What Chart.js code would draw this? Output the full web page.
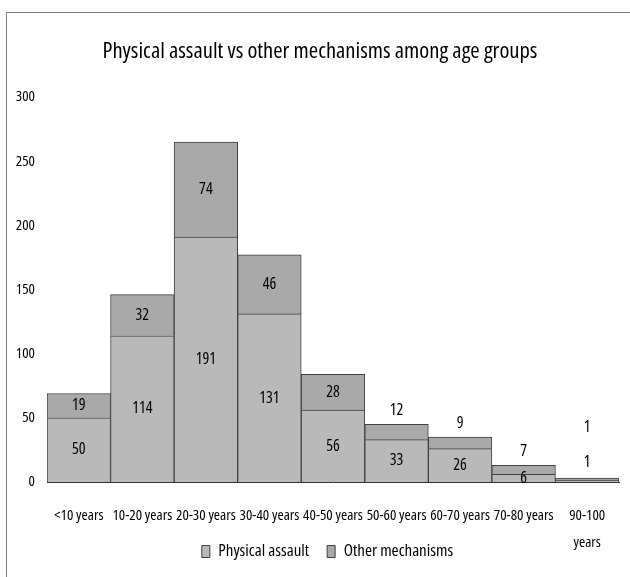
<!DOCTYPE html>
<html>
<head>
<meta charset="utf-8">
<script src="https://cdn.jsdelivr.net/npm/chart.js@4.4.1/dist/chart.umd.min.js"></script>
<style>
    body { margin: 0; background: #fff; }
    #frame { position: absolute; left: 6px; top: 12px; width: 640px; height: 600px; border-left: 1px solid #7f7f7f; border-top: 1px solid #7f7f7f; }
    #myChart { position: absolute; left: 0; top: 0; }
</style>
</head>
<body>
<div id="frame"></div>
<canvas id="myChart" width="630" height="577"></canvas>
<script>
const ageGroups = ["<10 years", "10-20 years", "20-30 years", "30-40 years", "40-50 years", "50-60 years", "60-70 years", "70-80 years", ["90-100", "years"]];
const physicalAssault = [50, 114, 191, 131, 56, 33, 26, 6, 1];
const otherMechanisms = [19, 32, 74, 46, 28, 12, 9, 7, 1];

// no narrow font installed, so use Open Sans with the condensed width
const family = "'Open Sans', sans-serif";
const narrow = "condensed";

// numbers on the bars (small ones go above the bar)
const barLabels = {
    id: "barLabels",
    afterDatasetsDraw(chart) {
        const ctx = chart.ctx;
        const lower = chart.getDatasetMeta(0).data;
        const upper = chart.getDatasetMeta(1).data;
        ctx.save();
        ctx.font = narrow + " 16px " + family;
        ctx.fillStyle = "#000";
        ctx.textAlign = "center";
        ctx.textBaseline = "middle";
        lower.forEach(function (bar, i) {
            let y1 = (bar.y + bar.base) / 2;
            const lifted = bar.base - bar.y < 4;
            if (lifted) y1 = bar.base - 20;
            ctx.fillText(physicalAssault[i], bar.x, y1);
            const top = upper[i];
            let y2 = (top.y + top.base) / 2;
            if (lifted) y2 = y1 - 35;
            else if (top.base - top.y < 20) y2 = top.y - 14;
            ctx.fillText(otherMechanisms[i], top.x, y2);
        });
        ctx.restore();
    }
};

// legend sits on the same row as the second line of "90-100 years"
const legendRow = {
    id: "legendRow",
    afterLayout(chart) {
        const legend = chart.legend;
        legend.left = 36;
        legend.right = 619;
        legend.width = legend.right - legend.left;
        legend.top = 525;
        legend.bottom = 577;
        legend.height = legend.bottom - legend.top;
        // title is centred on the whole frame
        chart.titleBlock.right = 640;
        chart.titleBlock.width = 640;
    }
};

const ctx = document.querySelector("#myChart").getContext("2d");
const myChart = new Chart(ctx, {
    type: "bar",
    data: {
        labels: ageGroups,
        datasets: [{
            label: "Physical assault",
            data: physicalAssault,
            backgroundColor: "#b9b9b9",
            borderColor: "#404040",
            borderWidth: 1,
            minBarLength: 2,
            barPercentage: 1,
            categoryPercentage: 1
        }, {
            label: "Other mechanisms",
            data: otherMechanisms,
            backgroundColor: "#a9a9a9",
            borderColor: "#404040",
            borderWidth: 1,
            minBarLength: 2,
            barPercentage: 1,
            categoryPercentage: 1
        }]
    },
    options: {
        responsive: false,
        animation: false,
        devicePixelRatio: 1,
        layout: {
            padding: { left: 0, right: 11, top: 0, bottom: 0 }
        },
        plugins: {
            title: {
                display: true,
                text: "Physical assault vs other mechanisms among age groups",
                color: "#000",
                font: { family: family, size: 22.6, weight: narrow },
                padding: { top: 38, bottom: 32 }
            },
            legend: {
                position: "bottom",
                maxHeight: 1,
                labels: {
                    color: "#000",
                    font: { family: family, size: 17, weight: narrow },
                    boxWidth: 8,
                    boxHeight: 12,
                    padding: 18
                }
            },
            tooltip: { enabled: false }
        },
        scales: {
            x: {
                stacked: true,
                grid: { display: false, drawTicks: false },
                border: { display: true, color: "#333" },
                ticks: {
                    color: "#000",
                    font: { family: family, size: 15, weight: narrow, lineHeight: 1.8 },
                    padding: 20,
                    maxRotation: 0,
                    autoSkip: false
                },
                afterFit: function (scale) {
                    scale.height = 94;
                    scale.paddingLeft = 0;
                    scale.paddingRight = 0;
                }
            },
            y: {
                stacked: true,
                min: 0,
                max: 300,
                grid: { display: false, drawTicks: false },
                border: { display: false },
                ticks: {
                    stepSize: 50,
                    color: "#000",
                    font: { family: family, size: 15, weight: narrow },
                    padding: 12
                },
                afterFit: function (scale) {
                    scale.width = 47;
                }
            }
        }
    },
    plugins: [barLabels, legendRow]
});
</script>
</body>
</html>
